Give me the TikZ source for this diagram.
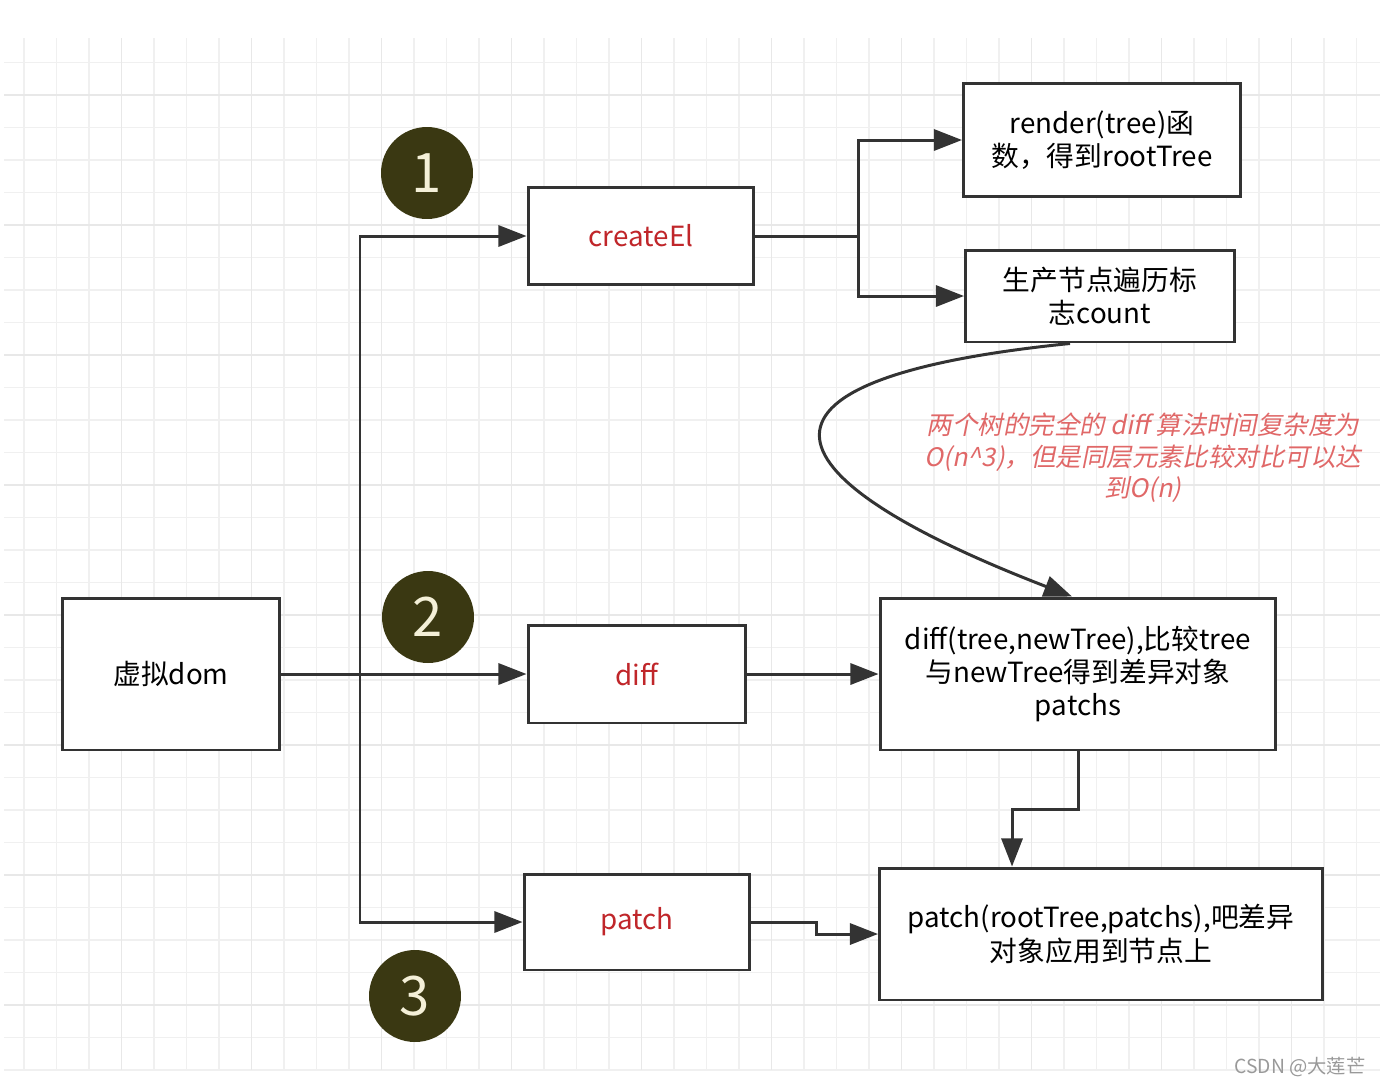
\documentclass[tikz,border=0pt]{standalone}
\usepackage{fontspec}
\setmainfont{Noto Sans CJK SC}
\newfontfamily\cjkslant[FakeSlant=0.2]{Noto Sans CJK SC}
\usetikzlibrary{arrows.meta,calc}
\definecolor{inkline}{HTML}{333333}
\definecolor{boxred}{HTML}{C0262A}
\definecolor{notered}{HTML}{E06868}
\definecolor{badgefill}{HTML}{3A3812}
\definecolor{badgetext}{HTML}{F4F0D8}
\definecolor{gridminor}{HTML}{F0F0F0}
\definecolor{gridmajor}{HTML}{E8E8E8}
\begin{document}
\begin{tikzpicture}[x=0.02cm,y=-0.02cm]
  \tikzset{
    box/.style={draw=inkline,line width=1.7pt,fill=white,align=center,
      font=\fontsize{15.8pt}{19pt}\selectfont,inner sep=0pt},
    badge/.style={circle,fill=badgefill,text=badgetext,minimum size=1.84cm,
      inner sep=0pt,font=\fontsize{31pt}{31pt}\selectfont},
    link/.style={draw=inkline,line width=1.7pt},
    arr/.style={link,-{Triangle[length=16pt,width=12pt]}},
  }
  \useasboundingbox (0,0) rectangle (1380,1086);

  %GRID
  \foreach \k in {0,...,41}
    \draw[gridminor,line width=0.6pt] ({24+32.5*\k},38) -- ({24+32.5*\k},1070);
  \foreach \k in {0,...,31}
    \draw[gridminor,line width=0.6pt] (4,{62.5+32.5*\k}) -- (1380,{62.5+32.5*\k});
  \foreach \k in {3,7,...,39}
    \draw[gridmajor,line width=0.7pt] ({24+32.5*\k},38) -- ({24+32.5*\k},1070);
  \foreach \k in {1,5,...,29}
    \draw[gridmajor,line width=0.7pt] (4,{62.5+32.5*\k}) -- (1380,{62.5+32.5*\k});

  %BOXES
  \node[box,minimum width=4.36cm,minimum height=3.04cm] (vdom) at (171,674) {虚拟dom};
  \node[box,minimum width=4.52cm,minimum height=1.94cm,text=boxred] (create) at (641,236) {createEl};
  \node[box,minimum width=4.36cm,minimum height=1.96cm,text=boxred] (diff) at (637,674) {diff};
  \node[box,minimum width=4.52cm,minimum height=1.92cm,text=boxred] (patch) at (637,922) {patch};
  \node[box,minimum width=5.54cm,minimum height=2.26cm] (render) at (1102,140) {render(tree)函\\数，得到rootTree};
  \node[box,minimum width=5.38cm,minimum height=1.84cm] (count) at (1100,296) {生产节点遍历标\\志count};
  \node[box,minimum width=7.92cm,minimum height=3.04cm] (diffbox) at (1078,674) {diff(tree,newTree),比较tree\\与newTree得到差异对象\\patchs};
  \node[box,minimum width=8.86cm,minimum height=2.64cm] (patchbox) at (1101,934) {patch(rootTree,patchs),吧差异\\对象应用到节点上};

  %BADGES
  \node[badge] (one) at (427,173) {1};
  \node[badge] (two) at (428,617) {2};
  \node[badge] (three) at (415,996) {3};

  %CONNECTORS
  \coordinate (trunk) at (360,674);
  \coordinate (fork) at (858,236);
  \draw[arr] (vdom.east) -- (diff.west);
  \draw[arr] (trunk) |- (create.west);
  \draw[arr] (trunk) |- (patch.west);
  \draw[link] (create.east) -- (fork);
  \draw[arr] (fork) |- (render.west);
  \draw[arr] (fork) |- (count.west);
  \draw[arr] (diff.east) -- (diffbox.west);
  \draw[arr] (diffbox.south) -- ++(0,58) -| ([xshift=-1.78cm]patchbox.north);
  \draw[arr] (patch.east) -- ++(65,0) |- (patchbox.west);
  \draw[arr] ([xshift=-0.6cm]count.south) .. controls (710,380) and (770,480) .. ([xshift=-0.12cm]diffbox.north);

  %NOTE
  \node[text=notered,align=center,font=\cjkslant\fontsize{14.5pt}{18pt}\selectfont] (note) at (1143,458)
    {两个树的完全的 diff 算法时间复杂度为\\O(n\^{}3)，但是同层元素比较对比可以达\\到O(n)};
  \node[text=gray!80,font=\fontsize{11pt}{12pt}\selectfont] (mark) at (1300,1067) {CSDN @大莲芒};
\end{tikzpicture}
\end{document}
